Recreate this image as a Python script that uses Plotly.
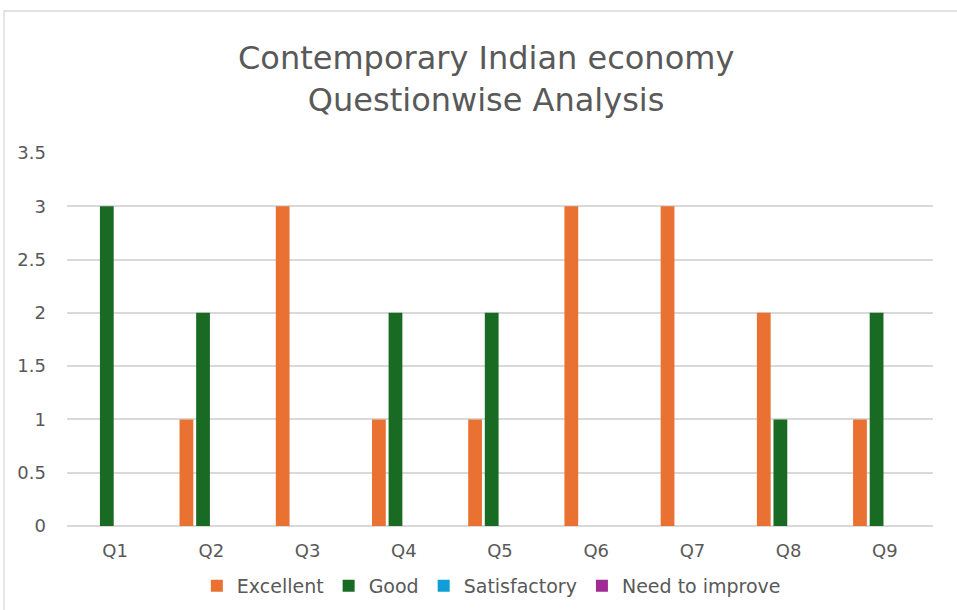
import plotly.graph_objects as go

categories = ["Q1", "Q2", "Q3", "Q4", "Q5", "Q6", "Q7", "Q8", "Q9"]
excellent = [0, 1, 3, 1, 1, 3, 3, 2, 1]
good = [3, 2, 0, 2, 2, 0, 0, 1, 2]
satisfactory = [0, 0, 0, 0, 0, 0, 0, 0, 0]
need_to_improve = [0, 0, 0, 0, 0, 0, 0, 0, 0]
y_ticks = [0, 0.5, 1, 1.5, 2, 2.5, 3, 3.5]

series = [
    ("Excellent", excellent, "#E97132"),
    ("Good", good, "#196B24"),
    ("Satisfactory", satisfactory, "#0F9ED5"),
    ("Need to improve", need_to_improve, "#A02B93"),
]

FONT = "DejaVu Sans, sans-serif"
GRAY = "#595959"

fig = go.Figure()
for name, vals, color in series:
    fig.add_trace(go.Bar(x=categories, y=vals, name=name,
                         marker=dict(color=color, line=dict(width=0))))

W, H = 957, 610
L, R, T, B = 67, 24, 153, 84
pw, ph = W - L - R, H - T - B

fig.update_layout(
    width=W, height=H,
    margin=dict(l=L, r=R, t=T, b=B, autoexpand=False),
    paper_bgcolor="white", plot_bgcolor="white",
    barmode="group", bargap=0.31, bargroupgap=0.17,
    font=dict(family=FONT, color=GRAY, size=18),
    title=dict(text="Contemporary Indian economy<br>Questionwise Analysis",
               x=0.508, xanchor="center", y=1 - 69 / H, yanchor="top",
               font=dict(family=FONT, size=32, color=GRAY)),
    xaxis=dict(showgrid=False, showline=False, ticks="", tickfont=dict(size=18, color=GRAY),
               ticklabelstandoff=12, automargin=False),
    yaxis=dict(range=[0, 3.5], tickvals=y_ticks, ticktext=[f"{v:g}" for v in y_ticks],
               showgrid=True, gridcolor="#D9D9D9", gridwidth=1.5, zeroline=True,
               zerolinecolor="#D9D9D9", zerolinewidth=1.5, showline=False, ticks="",
               tickfont=dict(size=18, color=GRAY), ticklabelstandoff=20, automargin=False),
    legend=dict(orientation="h", x=0.49, xanchor="center", yref="container",
                y=1 - 586 / H, yanchor="middle",
                font=dict(size=19, color=GRAY), itemwidth=30, traceorder="normal"),
    showlegend=True,
    shapes=[dict(type="rect", xref="paper", yref="paper",
                 x0=(4 - L) / pw, x1=1.2, y0=-0.5, y1=((H - B) - 11) / ph,
                 line=dict(color="#D9D9D9", width=1.3), fillcolor="rgba(0,0,0,0)", layer="below")],
)

fig.write_html("out.html", config={"displayModeBar": False},
               post_script="document.body.style.margin='0';")
